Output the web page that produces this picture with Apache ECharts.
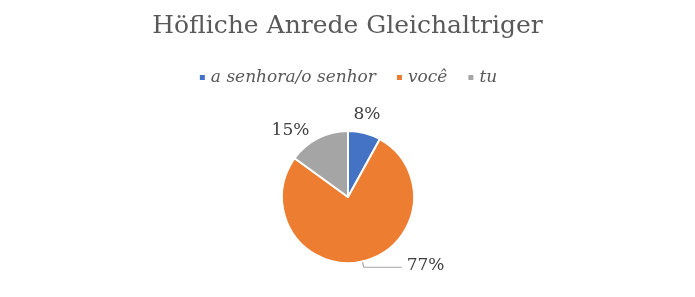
<!DOCTYPE html>
<html><head><meta charset="utf-8">
<script src="https://cdn.jsdelivr.net/npm/echarts@6/dist/echarts.min.js"></script>
<style>html,body{margin:0;padding:0;background:#fff}#c{width:695px;height:297px}</style>
</head><body><div id="c"></div>
<script>
const categories = ['a senhora/o senhor', 'você', 'tu'];
const values = [8, 77, 15];
const colors = ['#4472C4', '#ED7D31', '#A5A5A5'];

const chart = echarts.init(document.getElementById('c'), null, {renderer: 'canvas'});
const serif = '"DejaVu Serif", "Liberation Serif", serif';
chart.setOption({
  animation: false,
  title: {
    text: 'Höfliche Anrede Gleichaltriger',
    left: 'center', top: 9,
    textStyle: {fontFamily: serif, fontSize: 25, fontWeight: 'normal', color: '#595959'}
  },
  legend: {
    data: categories,
    top: 64, left: 'center',
    icon: 'rect', itemWidth: 7, itemHeight: 7, itemGap: 19, itemTextGap: 6,
    textStyle: {fontFamily: serif, fontStyle: 'italic', fontSize: 17, color: '#595959'}
  },
  series: [{
    type: 'pie',
    center: [348, 197],
    radius: 66,
    startAngle: 90,
    clockwise: true,
    itemStyle: {borderColor: '#fff', borderWidth: 2},
    label: {
      show: true, position: 'outside', formatter: '{d}%',
      fontFamily: serif, fontSize: 17, color: '#404040'
    },
    labelLine: {show: false, length: 8, length2: 0, lineStyle: {color: '#A6A6A6', width: 1.2}},
    labelLayout: function (p) {
      if (p.dataIndex === 0) return {dx: -18, dy: -11};
      if (p.dataIndex === 1) return {dy: -2};
      return {};
    },
    data: categories.map((n, i) => {
      const d = {name: n, value: values[i], itemStyle: {color: colors[i]}};
      if (i === 1) {
        d.labelLine = {show: true, length: 6, length2: 38};
      }
      return d;
    })
  }]
});
</script></body></html>
